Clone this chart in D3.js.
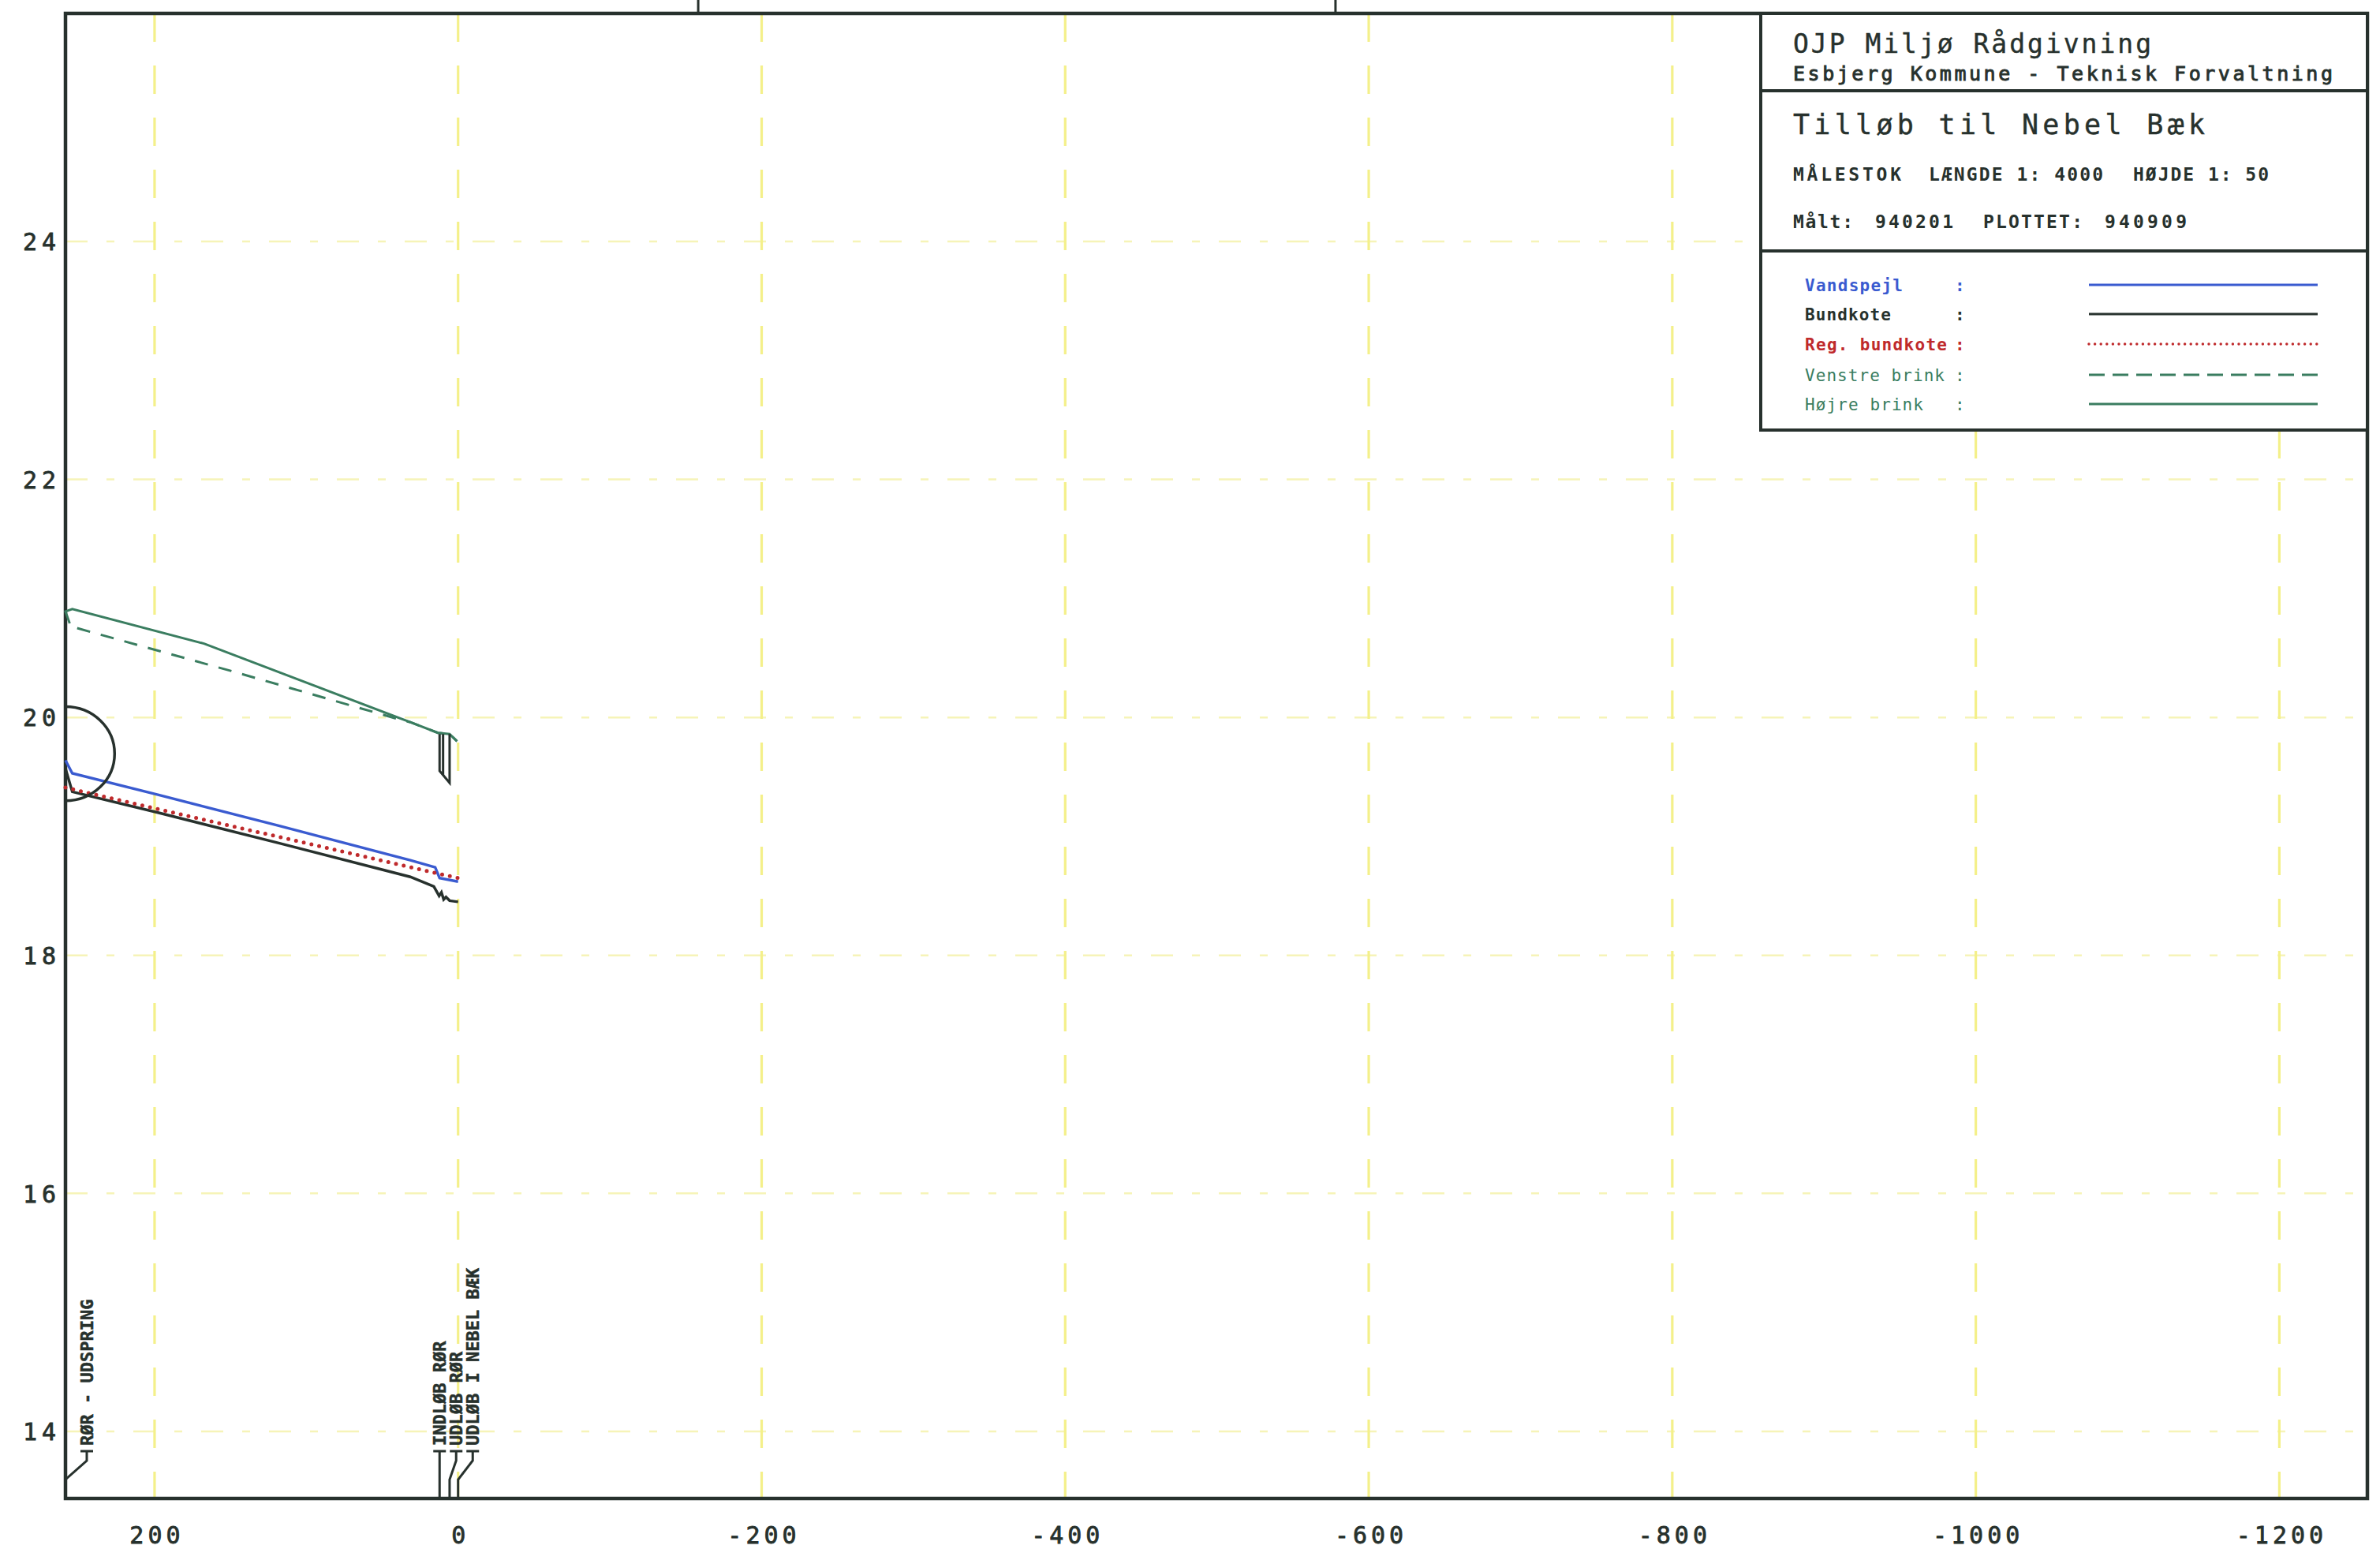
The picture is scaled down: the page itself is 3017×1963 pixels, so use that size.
<!DOCTYPE html>
<html>
<head>
<meta charset="utf-8">
<script src="https://cdn.jsdelivr.net/npm/d3@7/dist/d3.min.js"></script>
<style>
  body { margin: 0; background: #fff; }
  svg { display: block; }
  text { font-family: "DejaVu Sans Mono", monospace; }
</style>
</head>
<body>
<svg id="chart"></svg>
<script>
// ---- data (chainage in m, elevation in m) ----
var xTicks = [200, 0, -200, -400, -600, -800, -1000, -1200];
var yTicks = [14, 16, 18, 20, 22, 24];
var xDomain = [258.7, -1258];
var yDomain = [25.916, 13.436];

var vandspejl = [[258.7, 19.64], [254.2, 19.53], [197.8, 19.35], [118.2, 19.09], [31.5, 18.80],
                 [15.1, 18.74], [12.2, 18.65], [0, 18.62]];
var bundkote = [[258.7, 19.57], [254.2, 19.375], [197.8, 19.20], [118.2, 18.944], [31.5, 18.66],
                [16, 18.58], [12.5, 18.50], [11, 18.53], [9.5, 18.47], [8, 18.49], [5.6, 18.46], [0, 18.45]];
var regBundkote = [[258.7, 19.41], [197.8, 19.23], [22.9, 18.716], [0, 18.65]];
var venstreBrink = [[251, 20.75], [146.7, 20.38], [38, 19.98], [31.5, 19.96], [13.3, 19.87],
                    [5.6, 19.86], [0.7, 19.80]];
var hojreBrink = [[255.9, 20.79], [258.7, 20.89], [254.2, 20.91], [167.4, 20.62], [31.5, 19.96],
                  [13.3, 19.87], [5.6, 19.86], [0.7, 19.80]];
var inletBox = [[12.2, 19.86], [12.2, 19.55], [5.6, 19.45], [5.6, 19.86]];
var inletInner = [[9.9, 19.86], [9.9, 19.515]];
var pipeArc = {station: 258.7, top: 20.09, bottom: 19.30, bulge: 226.3};
var sheetMarks = [-158.2, -578.1];

var stationNames = ["RØR - UDSPRING", "INDLØB RØR", "UDLØB RØR", "UDLØB I NEBEL BÆK"];
var stationX = [258.7, 12.2, 5.6, 0];

var headerLines = ["OJP Miljø Rådgivning", "Esbjerg Kommune - Teknisk Forvaltning", "Tilløb til Nebel Bæk"];
var scaleTexts = ["MÅLESTOK", "LÆNGDE 1: 4000", "HØJDE 1: 50"];
var dateTexts = ["Målt:", "940201", "PLOTTET:", "940909"];
var legendNames = ["Vandspejl", "Bundkote", "Reg. bundkote", "Venstre brink", "Højre brink"];

// ---- layout ----
var W = 3017, H = 1963;
var pL = 83, pR = 3001, pT = 17, pB = 1899;
var ink = "#27312d", blue = "#3a5bd0", red = "#bf2a2c", green = "#3a7d60";

var svg = d3.select("#chart").attr("width", W).attr("height", H);

var x = d3.scaleLinear().domain(xDomain).range([pL, pR]);
var y = d3.scaleLinear().domain(yDomain).range([pT, pB]);
var line = d3.line().x(d => x(d[0])).y(d => y(d[1]));

// grid
svg.append("g").selectAll("line").data(yTicks).enter().append("line")
    .attr("x1", pL).attr("x2", pR)
    .attr("y1", d => y(d)).attr("y2", d => y(d))
    .attr("stroke", "#f6f4b8").attr("stroke-width", 2.5)
    .attr("stroke-dasharray", "28,24,10,24");
svg.append("g").selectAll("line").data(xTicks).enter().append("line")
    .attr("x1", d => x(d)).attr("x2", d => x(d))
    .attr("y1", pT).attr("y2", pB)
    .attr("stroke", "#f4f08a").attr("stroke-width", 3.2)
    .attr("stroke-dasharray", "36,30");

// axes labels via d3 axes
var xAxis = svg.append("g").attr("transform", "translate(0," + pB + ")")
    .call(d3.axisBottom(x).tickValues(xTicks).tickSize(0).tickPadding(36)
        .tickFormat(d => d < 0 ? "-" + Math.abs(d) : String(d)));
xAxis.select(".domain").remove();
xAxis.selectAll("text").attr("font-size", 30).attr("fill", ink)
    .attr("font-family", "DejaVu Sans Mono").style("letter-spacing", "5px")
    .attr("stroke", ink).attr("stroke-width", 0.8)
    .attr("dx", 2.5);

var yAxis = svg.append("g").attr("transform", "translate(" + (pL - 6) + ",0)")
    .call(d3.axisLeft(y).tickValues(yTicks).tickSize(0).tickPadding(0));
yAxis.select(".domain").remove();
yAxis.selectAll("text").attr("font-size", 30).attr("fill", ink)
    .attr("font-family", "DejaVu Sans Mono").style("letter-spacing", "6px")
    .attr("stroke", ink).attr("stroke-width", 0.8)
    .attr("dy", "0.36em");

// frame
svg.append("rect").attr("x", pL).attr("y", pT)
    .attr("width", pR - pL).attr("height", pB - pT)
    .attr("fill", "none").attr("stroke", ink).attr("stroke-width", 4.5);
svg.append("g").selectAll("line").data(sheetMarks).enter().append("line")
    .attr("x1", d => x(d)).attr("x2", d => x(d)).attr("y1", 0).attr("y2", pT)
    .attr("stroke", ink).attr("stroke-width", 3);

// profile lines
svg.append("path").datum(hojreBrink).attr("d", line)
    .attr("fill", "none").attr("stroke", green).attr("stroke-width", 3);
svg.append("path").datum(venstreBrink).attr("d", line)
    .attr("fill", "none").attr("stroke", green).attr("stroke-width", 3)
    .attr("stroke-dasharray", "17,14");
svg.append("path").datum(vandspejl).attr("d", line)
    .attr("fill", "none").attr("stroke", blue).attr("stroke-width", 3.4);
svg.append("path").datum(bundkote).attr("d", line)
    .attr("fill", "none").attr("stroke", ink).attr("stroke-width", 3.5);
svg.append("path").datum(regBundkote).attr("d", line)
    .attr("fill", "none").attr("stroke", red).attr("stroke-width", 5)
    .attr("stroke-linecap", "round").attr("stroke-dasharray", "0,10");

// structures
svg.append("path").datum(inletBox).attr("d", line)
    .attr("fill", "none").attr("stroke", ink).attr("stroke-width", 3);
svg.append("path").datum(inletInner).attr("d", line)
    .attr("fill", "none").attr("stroke", ink).attr("stroke-width", 3);
var ax = x(pipeArc.station), ayT = y(pipeArc.top), ayB = y(pipeArc.bottom);
var rx = x(pipeArc.bulge) - ax, ry = (ayB - ayT) / 2;
svg.append("path")
    .attr("d", "M" + ax + "," + ayT + " A" + rx + "," + ry + " 0 0 1 " + ax + "," + ayB)
    .attr("fill", "none").attr("stroke", ink).attr("stroke-width", 3.5);

// station labels
var prevCol = -Infinity;
stationNames.forEach(function (name, i) {
    var px = x(stationX[i]);
    var col = Math.max(px, prevCol + 21, pL + 27);
    prevCol = col;
    svg.append("path")
        .attr("d", "M" + px + "," + (pB - 2) + " V1875 L" + col + ",1851 V1839 M" + (col - 8) + ",1839 H" + (col + 8))
        .attr("fill", "none").attr("stroke", ink).attr("stroke-width", 3);
    svg.append("text")
        .attr("transform", "translate(" + col + ",1832) rotate(-90)")
        .attr("dy", "0.36em")
        .attr("font-size", 22).attr("font-weight", "bold").attr("fill", ink)
        .attr("stroke", ink).attr("stroke-width", 0.5)
        .text(name);
});

// title / legend block
var bx = 2232, by = pT, bbottom = 545;
svg.append("rect").attr("x", bx).attr("y", by).attr("width", pR - bx).attr("height", bbottom - by)
    .attr("fill", "#fff").attr("stroke", ink).attr("stroke-width", 4);
[115, 318].forEach(function (yy) {
    svg.append("line").attr("x1", bx).attr("x2", pR).attr("y1", yy).attr("y2", yy)
        .attr("stroke", ink).attr("stroke-width", 4);
});

function label(t, x0, y0, size, len, weight, color) {
    return svg.append("text").attr("x", x0).attr("y", y0)
        .attr("font-size", size).attr("font-weight", weight || "normal")
        .attr("fill", color || ink)
        .attr("textLength", len).attr("lengthAdjust", "spacing")
        .text(t);
}
label(headerLines[0], 2273, 67, 33, 454).attr("stroke", ink).attr("stroke-width", 0.4);
label(headerLines[1], 2273, 102, 25, 684).attr("stroke", ink).attr("stroke-width", 0.9);
label(headerLines[2], 2273, 170, 35, 522).attr("stroke", ink).attr("stroke-width", 0.4);

var sx = [2273, 2445, 2704], sl = [137, 221, 172];
scaleTexts.forEach((t, i) => label(t, sx[i], 229, 23, sl[i], "bold"));
var dx = [2273, 2377, 2514, 2668], dl = [76, 99, 126, 104];
dateTexts.forEach((t, i) => label(t, dx[i], 289, 23, dl[i], "bold"));

var legendColors = [blue, ink, red, green, green];
var legendWeights = ["bold", "bold", "bold", "normal", "normal"];
var legendLens = [124, 109, 180, 177, 150];
var legendDash = [null, null, "0,7.6", "20,10", null];
var rowBase = [369, 406, 444, 483, 520];
legendNames.forEach(function (n, i) {
    label(n, 2288, rowBase[i], 21, legendLens[i], legendWeights[i], legendColors[i]);
    svg.append("text").attr("x", 2478).attr("y", rowBase[i]).attr("font-size", 21)
        .attr("font-weight", legendWeights[i]).attr("fill", legendColors[i]).text(":");
    var l = svg.append("line").attr("x1", 2648).attr("x2", 2938)
        .attr("y1", rowBase[i] - 8).attr("y2", rowBase[i] - 8)
        .attr("stroke", legendColors[i])
        .attr("stroke-width", i === 2 ? 3.5 : 3);
    if (legendDash[i]) l.attr("stroke-dasharray", legendDash[i]);
    if (i === 2) l.attr("stroke-linecap", "round");
});
</script>
</body>
</html>
